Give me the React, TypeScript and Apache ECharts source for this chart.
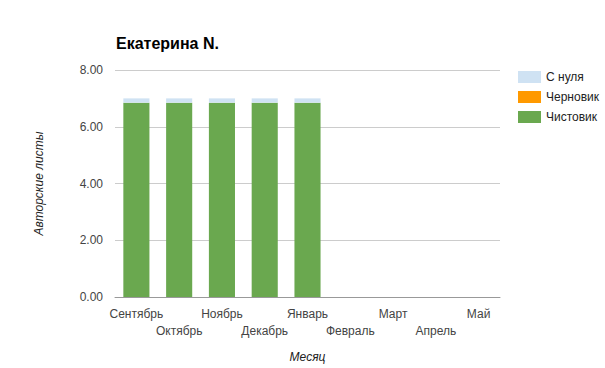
import React, { useEffect, useRef } from "react";
import * as echarts from "echarts";

const months = ["Сентябрь", "Октябрь", "Ноябрь", "Декабрь", "Январь", "Февраль", "Март", "Апрель", "Май"];
const fair = [6.85, 6.85, 6.85, 6.85, 6.85, 0, 0, 0, 0];
const draft = [0, 0, 0, 0, 0, 0, 0, 0, 0];
const fromScratch = [0.15, 0.15, 0.15, 0.15, 0.15, 0, 0, 0, 0];
const yTicks = [0, 2, 4, 6, 8];

const FONT = "Arial, 'Liberation Sans', sans-serif";

export default function App() {
  const ref = useRef<HTMLDivElement>(null);
  useEffect(() => {
    document.body.style.margin = "0";
    const chart = echarts.init(ref.current!, null, { renderer: "svg" });
    chart.setOption({
      animation: false,
      backgroundColor: "#ffffff",
      textStyle: { fontFamily: FONT },
      title: {
        text: "Екатерина N.",
        left: 111,
        top: 30,
        textStyle: { fontFamily: FONT, fontSize: 16, fontWeight: "bold", color: "#000" },
      },
      legend: {
        orient: "vertical",
        left: 513,
        top: 66,
        itemWidth: 23,
        itemHeight: 12,
        itemGap: 8,
        icon: "rect",
        data: ["С нуля", "Черновик", "Чистовик"],
        textStyle: { fontFamily: FONT, fontSize: 12, color: "#222" },
      },
      grid: { left: 115, right: 105, top: 70, bottom: 67, containLabel: false },
      xAxis: {
        type: "category",
        data: months,
        name: "Месяц",
        nameLocation: "middle",
        nameGap: 54,
        nameTextStyle: { fontFamily: FONT, fontSize: 12, fontStyle: "italic", color: "#222" },
        axisLine: { show: true, lineStyle: { color: "#999" } },
        axisTick: { show: false },
        axisLabel: {
          interval: 0,
          margin: 8,
          fontFamily: FONT,
          fontSize: 12,
          color: "#444",
          lineHeight: 17,
          formatter: (v: string, i: number) => (i % 2 ? "\n" + v : v),
        },
      },
      yAxis: {
        type: "value",
        min: yTicks[0],
        max: yTicks[yTicks.length - 1],
        interval: 2,
        name: "Авторские листы",
        nameLocation: "middle",
        nameGap: 70,
        nameTextStyle: { fontFamily: FONT, fontSize: 12, fontStyle: "italic", color: "#222" },
        axisLine: { show: false },
        axisTick: { show: false },
        axisLabel: {
          margin: 12,
          fontFamily: FONT,
          fontSize: 12,
          color: "#444",
          formatter: (v: number) => v.toFixed(2),
        },
        splitLine: { lineStyle: { color: "#cccccc" } },
      },
      series: [
        { name: "Чистовик", type: "bar", stack: "a", data: fair, barWidth: "61%", itemStyle: { color: "#6aa84f" } },
        { name: "Черновик", type: "bar", stack: "a", data: draft, barWidth: "61%", itemStyle: { color: "#ff9900" } },
        { name: "С нуля", type: "bar", stack: "a", data: fromScratch, barWidth: "61%", itemStyle: { color: "#cfe2f3" } },
      ],
    });
    return () => chart.dispose();
  }, []);
  return <div ref={ref} style={{ position: "absolute", left: 0, top: 0, width: 605, height: 368 }} />;
}
